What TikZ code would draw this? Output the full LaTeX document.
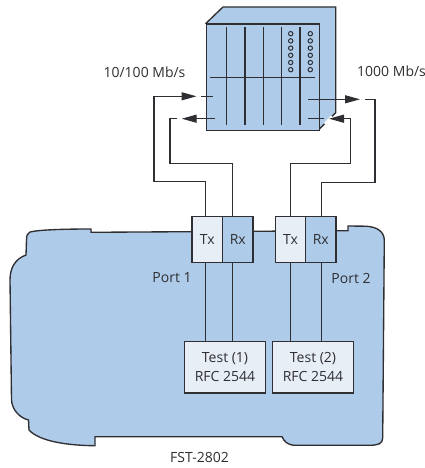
\documentclass[tikz,border=0pt]{standalone}
\usepackage{fontspec}
\setmainfont{Open Sans}
\usetikzlibrary{arrows.meta,calc}
\definecolor{bodyblue}{HTML}{AECCEA}
\definecolor{lightbox}{HTML}{E8EEF6}
\definecolor{ink}{HTML}{2F2F33}
\tikzset{
  wire/.style={draw=ink,line width=1.25pt},
  outline/.style={draw=ink,line width=1.35pt,line join=miter},
  tipwire/.style={wire,-{Triangle[length=15pt,width=8pt,fill=ink,color=ink]}},
  portbox/.style={outline,anchor=north west,inner sep=0pt,text=ink,font=\fontsize{14}{19}\selectfont},
  txt/.style={text=ink,font=\fontsize{14}{16}\selectfont,inner sep=0pt},
  led/.style={draw=ink,line width=1pt,fill=none},
}
\begin{document}
\begin{tikzpicture}[x=1pt,y=-1pt]
\useasboundingbox (0,0) rectangle (425,468);
% FST body
\path[outline,fill=bodyblue]
  (91,232.3) -- (91,229) .. controls (60,229) and (38,230) .. (30,232) .. controls (27,233) and (26.7,236) .. (26.5,240)
  -- (26,255) .. controls (15,259) and (10,268) .. (10,280)
  -- (11.5,400) .. controls (12,410) and (20,418) .. (28.5,420)
  -- (29,430) .. controls (40,442) and (70,445.5) .. (95,445.7)
  -- (95,436.7) -- (282,436.7) .. controls (284,441) and (287,445) .. (295,445.3)
  -- (370,445.3) .. controls (378,445) and (382.5,444) .. (382.7,438)
  -- (384.3,240) .. controls (384,232) and (378,227) .. (366,226.2)
  -- (348,226) -- (348,230.7) -- cycle;
% Cabinet
\path[outline,fill=bodyblue] (206,23.3) -- (223,7) -- (335.7,7) -- (335.7,112.7) -- (318.7,129.7) -- cycle;
\node[outline,fill=bodyblue,anchor=north west,minimum width=112.7pt,minimum height=106.4pt,inner sep=0pt] (front) at (206,23.3) {};
\draw[white,line width=3pt] (325,124) -- (332,116.5);
% Slots
\foreach \x in {226.7,245,263.3,281.7,300} \draw[wire] (\x,27) -- (\x,125);
\draw[wire] (210,77.7) -- (315,77.7);
\foreach \x in {290.7,310.3} \foreach \y in {33.7,40.9,48.1,55.3,62.5,69.7}
  \draw[led] (\x,\y) circle (2.2);
% Boxes
\node[portbox,fill=lightbox,minimum width=30.7pt,minimum height=46pt] (tx1) at (191.3,216) {Tx};
\node[portbox,fill=bodyblue,minimum width=30.3pt,minimum height=46pt] (rx1) at (222,216) {Rx};
\node[portbox,fill=lightbox,minimum width=30.3pt,minimum height=46pt] (tx2) at (274.7,216) {Tx};
\node[portbox,fill=bodyblue,minimum width=30.3pt,minimum height=46pt] (rx2) at (305,216) {Rx};
\node[portbox,fill=lightbox,minimum width=80.7pt,minimum height=51.3pt,align=center] (test1) at (184,341) {Test (1)\\RFC 2544};
\node[portbox,fill=lightbox,minimum width=80.7pt,minimum height=51.3pt,align=center] (test2) at (272,341) {Test (2)\\RFC 2544};
% Labels
\node[txt] (l1) at (144.5,72) {10/100 Mb/s};
\node[txt,anchor=west] (l2) at (357,71.5) {1000 Mb/s};
\node[txt] (p1) at (172,278) {Port 1};
\node[txt] (p2) at (351,278) {Port 2};
\node[txt] (fst) at (199.5,457) {FST-2802};
% Column guides
\coordinate (a) at (205.7,0); \coordinate (b) at (232.7,0);
\coordinate (c) at (290.3,0); \coordinate (d) at (321.7,0);
% Internal links
\draw[wire] (tx1.south -| a) -- (test1.north -| a);
\draw[wire] (rx1.south -| b) -- (test1.north -| b);
\draw[wire] (tx2.south -| c) -- (test2.north -| c);
\draw[wire] (rx2.south -| d) -- (test2.north -| d);
% External links
\coordinate (la) at (196.5,96.3); \coordinate (lb) at (201,96.3); \coordinate (lc) at (213.3,96.3);
\draw[tipwire] (tx1.north -| a) -- (205.7,181.7) -- (154,181.7) -- (154,96.3) -- (la);
\draw[wire] (lb) -- (lc);
\coordinate (ma) at (215,118.7); \coordinate (mb) at (176.7,118.7);
\draw[tipwire] (ma) -- (181.7,118.7);
\draw[wire] (mb) -- (170,118.7) -- (170,163.3) -- (232.7,163.3) -- (rx1.north -| b);
\coordinate (ra) at (307.7,99.3); \coordinate (rb) at (365,99.3);
\draw[tipwire] (ra) -- (360,99.3);
\draw[wire] (rb) -- (375,99.3) -- (375,182.7) -- (321.7,182.7) -- (rx2.north -| d);
\coordinate (sa) at (307.7,118.7); \coordinate (sb) at (324,118.7);
\draw[wire] (sa) -- (sb);
\coordinate (sc) at (350.7,118.7);
\draw[tipwire] (sc) -- (329,118.7);
\draw[wire] (sc) -- (350.7,163.3) -- (290.3,163.3) -- (tx2.north -| c);
\end{tikzpicture}
\end{document}
